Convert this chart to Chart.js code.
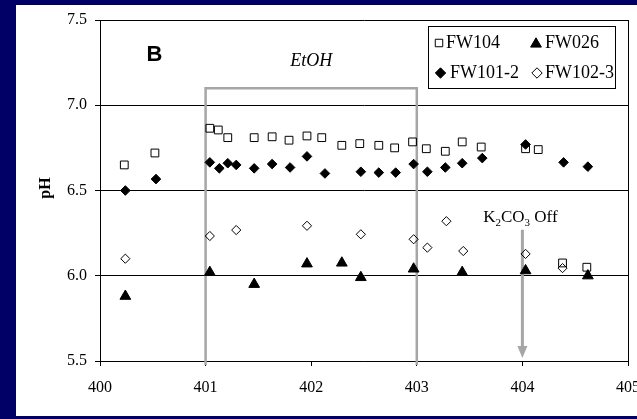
<!DOCTYPE html>
<html>
<head>
<meta charset="utf-8">
<script src="https://cdn.jsdelivr.net/npm/chart.js@4/dist/chart.umd.min.js"></script>
<style>
  html, body { margin: 0; padding: 0; background: #000066; overflow: hidden; }
  #c { display: block; }
</style>
</head>
<body>
<canvas id="c" width="637" height="419"></canvas>
<script>
// pH readings per well over time
const fw104X = [400.23, 400.52, 401.04, 401.12, 401.21, 401.46, 401.63, 401.79, 401.96, 402.10, 402.29, 402.46, 402.64, 402.79, 402.96, 403.09, 403.27, 403.43, 403.61, 404.03, 404.15, 404.38, 404.61];
const fw104Y = [6.65, 6.72, 6.865, 6.855, 6.81, 6.81, 6.815, 6.795, 6.82, 6.81, 6.765, 6.775, 6.765, 6.75, 6.785, 6.745, 6.73, 6.785, 6.755, 6.745, 6.74, 6.075, 6.05];

const fw026X = [400.24, 401.04, 401.46, 401.96, 402.29, 402.47, 402.97, 403.43, 404.03, 404.62];
const fw026Y = [5.88, 6.02, 5.95, 6.07, 6.075, 5.99, 6.04, 6.02, 6.03, 6.0];

const fw1012X = [400.24, 400.53, 401.04, 401.13, 401.21, 401.29, 401.46, 401.63, 401.80, 401.96, 402.13, 402.47, 402.64, 402.80, 402.97, 403.10, 403.27, 403.43, 403.62, 404.03, 404.39, 404.62];
const fw1012Y = [6.50, 6.567, 6.665, 6.63, 6.66, 6.65, 6.63, 6.655, 6.635, 6.70, 6.60, 6.61, 6.605, 6.605, 6.655, 6.61, 6.635, 6.66, 6.69, 6.77, 6.665, 6.64];

const fw1023X = [400.24, 401.04, 401.29, 401.96, 402.47, 402.97, 403.10, 403.28, 403.44, 404.03, 404.38];
const fw1023Y = [6.10, 6.233, 6.268, 6.293, 6.243, 6.214, 6.165, 6.32, 6.145, 6.128, 6.045];

const seriesNames = ['FW104', 'FW026', 'FW101-2', 'FW102-3'];

// EtOH dosing window and the K2CO3 shut-off time
const etohStart = 401, etohEnd = 403, etohTop = 7.1;
const k2co3Off = 404, k2co3ArrowTop = 6.27;

const xTicks = [400, 401, 402, 403, 404, 405];
const yTicks = [5.5, 6.0, 6.5, 7.0, 7.5];

const pts = (xs, ys) => xs.map((x, i) => ({ x, y: ys[i] }));

const SERIF = '"Liberation Serif", "Times New Roman", serif';
const GRAY = '#a6a6a6';

const markerStyles = [
  { pointStyle: 'rect', radius: 5.5, bg: 'rgba(0,0,0,0)', border: '#000', bw: 1 },
  { pointStyle: 'triangle', radius: 6.2, bg: '#000', border: '#000', bw: 1 },
  { pointStyle: 'rectRot', radius: 4.8, bg: '#000', border: '#000', bw: 1 },
  { pointStyle: 'rectRot', radius: 4.6, bg: 'rgba(0,0,0,0)', border: '#000', bw: 1 }
];

const frame = {
  id: 'frame',
  beforeDraw(chart) {
    const c = chart.ctx;
    c.save();
    c.fillStyle = '#000066';
    c.fillRect(0, 0, chart.width, chart.height);
    c.fillStyle = '#ffffff';
    c.fillRect(16, 5, chart.width - 16, 411);
    c.restore();
  },
  beforeDatasetsDraw(chart) {
    const c = chart.ctx, xs = chart.scales.x, ys = chart.scales.y;
    const a = chart.chartArea;
    c.save();
    // EtOH window outline
    c.strokeStyle = GRAY;
    c.lineWidth = 2.5;
    const x1 = xs.getPixelForValue(etohStart), x2 = xs.getPixelForValue(etohEnd);
    const yt = ys.getPixelForValue(etohTop);
    c.beginPath();
    c.moveTo(x1, a.bottom + 4);
    c.lineTo(x1, yt);
    c.lineTo(x2, yt);
    c.lineTo(x2, a.bottom + 4);
    c.stroke();
    // K2CO3 off arrow
    const ax = xs.getPixelForValue(k2co3Off);
    const ay = ys.getPixelForValue(k2co3ArrowTop);
    const tip = a.bottom - 3;
    c.lineWidth = 3;
    c.beginPath();
    c.moveTo(ax, ay);
    c.lineTo(ax, tip - 10);
    c.stroke();
    c.fillStyle = GRAY;
    c.beginPath();
    c.moveTo(ax - 5, tip - 12);
    c.lineTo(ax + 5, tip - 12);
    c.lineTo(ax, tip);
    c.closePath();
    c.fill();
    c.restore();
  },
  afterDraw(chart) {
    const c = chart.ctx, xs = chart.scales.x, a = chart.chartArea;
    c.save();
    // right edge of plot box
    c.strokeStyle = '#000';
    c.lineWidth = 1;
    c.beginPath();
    c.moveTo(Math.round(a.right) + 0.5, a.top);
    c.lineTo(Math.round(a.right) + 0.5, a.bottom);
    c.stroke();

    // panel letter
    c.fillStyle = '#000';
    c.font = 'bold 22px "Liberation Sans", Arial, sans-serif';
    c.textAlign = 'center';
    c.textBaseline = 'alphabetic';
    c.fillText('B', 154.5, 61);

    // EtOH label
    c.font = 'italic 18px ' + SERIF;
    c.fillText('EtOH', (xs.getPixelForValue(etohStart) + xs.getPixelForValue(etohEnd)) / 2, 66);

    // K2CO3 Off label with subscripts
    const parts = [['K', 17, 0], ['2', 11, 4], ['CO', 17, 0], ['3', 11, 4], [' Off', 17, 0]];
    let total = 0;
    parts.forEach(p => { c.font = p[1] + 'px ' + SERIF; total += c.measureText(p[0]).width; });
    let px = xs.getPixelForValue(k2co3Off) - total / 2 - 2;
    c.textAlign = 'left';
    parts.forEach(p => {
      c.font = p[1] + 'px ' + SERIF;
      c.fillText(p[0], px, 222 + p[2]);
      px += c.measureText(p[0]).width;
    });

    // y-axis title
    c.save();
    c.translate(46, 188);
    c.rotate(-Math.PI / 2);
    c.font = 'bold 16px ' + SERIF;
    c.textAlign = 'center';
    c.textBaseline = 'middle';
    c.fillText('pH', 0, 0);
    c.restore();

    // legend box
    c.fillStyle = '#fff';
    c.fillRect(428.5, 26.5, 187, 62);
    c.strokeStyle = '#000';
    c.lineWidth = 1;
    c.strokeRect(428.5, 26.5, 187, 62);
    const entries = [
      { i: 0, mx: 439, my: 43, tx: 446, ty: 48 },
      { i: 1, mx: 536, my: 44, tx: 545, ty: 48 },
      { i: 2, mx: 440.5, my: 73, tx: 450, ty: 78 },
      { i: 3, mx: 537, my: 73, tx: 545, ty: 78 }
    ];
    entries.forEach(e => {
      const m = markerStyles[e.i];
      c.fillStyle = m.bg;
      c.strokeStyle = m.border;
      c.lineWidth = m.bw;
      const r = e.i === 1 ? 6.2 : (e.i === 0 ? 5.3 : 5.2);
      Chart.helpers.drawPoint(c, { pointStyle: m.pointStyle, radius: r, borderWidth: m.bw, rotation: 0 }, e.mx, e.my);
      c.fillStyle = '#000';
      c.font = '18px ' + SERIF;
      c.textAlign = 'left';
      c.textBaseline = 'alphabetic';
      c.fillText(seriesNames[e.i], e.tx, e.ty);
    });
    c.restore();
  }
};

const datasets = [
  [fw104X, fw104Y], [fw026X, fw026Y], [fw1012X, fw1012Y], [fw1023X, fw1023Y]
].map((d, i) => ({
  label: seriesNames[i],
  data: pts(d[0], d[1]),
  pointStyle: markerStyles[i].pointStyle,
  pointRadius: markerStyles[i].radius,
  pointHoverRadius: markerStyles[i].radius,
  backgroundColor: markerStyles[i].bg,
  borderColor: markerStyles[i].border,
  borderWidth: markerStyles[i].bw,
  showLine: false,
  order: [4, 2, 1, 3][i]
}));

new Chart(document.getElementById('c'), {
  type: 'scatter',
  data: { datasets },
  options: {
    responsive: false,
    animation: false,
    devicePixelRatio: 1,
    layout: { padding: { top: 20, right: 9, left: 0, bottom: 0 } },
    plugins: { legend: { display: false }, tooltip: { enabled: false } },
    scales: {
      x: {
        type: 'linear',
        min: 400, max: 405,
        afterFit(s) { s.height = 58; s.paddingLeft = 0; s.paddingRight = 0; },
        afterBuildTicks(s) { s.ticks = xTicks.map(v => ({ value: v })); },
        ticks: { color: '#000', font: { family: SERIF, size: 16 }, padding: 12, maxRotation: 0,
                 callback: v => String(v) },
        grid: { drawOnChartArea: false, color: '#000', tickLength: 5 },
        border: { color: '#000', width: 1 }
      },
      y: {
        min: 5.5, max: 7.5,
        afterFit(s) { s.width = 100; s.paddingTop = 0; s.paddingBottom = 0; },
        afterBuildTicks(s) { s.ticks = yTicks.map(v => ({ value: v })); },
        ticks: { color: '#000', font: { family: SERIF, size: 16 }, padding: 8,
                 callback: v => Number(v).toFixed(1) },
        grid: { color: '#000', tickLength: 5 },
        border: { color: '#000', width: 1 }
      }
    }
  },
  plugins: [frame]
});
</script>
</body>
</html>
